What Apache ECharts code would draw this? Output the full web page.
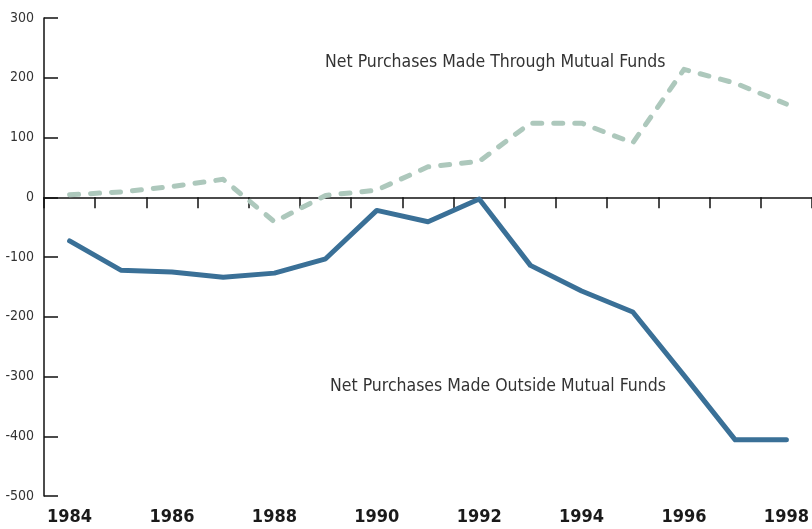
<!DOCTYPE html>
<html>
<head>
<meta charset="utf-8">
<script src="https://cdn.jsdelivr.net/npm/echarts@6/dist/echarts.min.js"></script>
<style>
  html, body { margin: 0; padding: 0; background: #fff; }
  #chart { width: 812px; height: 529px; }
</style>
</head>
<body>
<div id="chart"></div>
<script>
// years on the x axis
const years = ['1984', '1985', '1986', '1987', '1988', '1989', '1990', '1991',
  '1992', '1993', '1994', '1995', '1996', '1997', '1998'];
// net purchases made through mutual funds (dashed)
const throughFunds = [4, 9, 18, 30, -41, 3, 12, 51, 60, 124, 124, 91, 214, 191, 156];
// net purchases made outside mutual funds (solid)
const outsideFunds = [-73, -122, -125, -134, -127, -103, -22, -41, -3, -114, -157, -192, -298, -406, -406];

const FONT = '"DejaVu Sans Condensed", "Roboto", sans-serif';

const chart = echarts.init(document.getElementById('chart'));

const option = {
  animation: false,
  backgroundColor: '#fff',
  grid: {
    left: 44,
    right: -4,
    top: 18,
    bottom: 33
  },
  xAxis: [
    {
      // bottom labels only
      type: 'category',
      data: years,
      position: 'bottom',
      boundaryGap: true,
      axisLine: { show: false, onZero: false },
      axisTick: { show: false },
      axisLabel: {
        interval: 1,
        margin: 12,
        color: '#1a1a1a',
        fontFamily: FONT,
        fontWeight: 'bold',
        fontSize: 18
      },
      splitLine: { show: false }
    },
    {
      // zero line with ticks
      type: 'category',
      data: years,
      position: 'top',
      boundaryGap: true,
      axisLine: { show: true, onZero: true, lineStyle: { color: '#111', width: 1.5 } },
      axisTick: { show: true, inside: true, length: 11, lineStyle: { color: '#111', width: 1.5 } },
      axisLabel: { show: false },
      splitLine: { show: false }
    }
  ],
  yAxis: {
    type: 'value',
    min: -500,
    max: 300,
    interval: 100,
    axisLine: { show: true, lineStyle: { color: '#111', width: 1.5 } },
    axisTick: { show: true, inside: true, length: 14, lineStyle: { color: '#111', width: 1.5 } },
    axisLabel: {
      margin: 10,
      color: '#333',
      fontFamily: FONT,
      fontSize: 14
    },
    splitLine: { show: false }
  },
  graphic: [
    {
      type: 'text',
      left: 325,
      top: 53,
      style: {
        text: 'Net Purchases Made Through Mutual Funds',
        fill: '#333',
        font: '17.5px "DejaVu Sans Condensed", Roboto, sans-serif'
      }
    },
    {
      type: 'text',
      left: 330,
      top: 377,
      style: {
        text: 'Net Purchases Made Outside Mutual Funds',
        fill: '#333',
        font: '17.5px "DejaVu Sans Condensed", Roboto, sans-serif'
      }
    }
  ],
  series: [
    {
      name: 'Net Purchases Made Through Mutual Funds',
      type: 'line',
      xAxisIndex: 0,
      data: throughFunds,
      symbol: 'none',
      lineStyle: { color: '#adc8bc', width: 5, type: [9, 12], cap: 'round', join: 'round' }
    },
    {
      name: 'Net Purchases Made Outside Mutual Funds',
      type: 'line',
      xAxisIndex: 0,
      data: outsideFunds,
      symbol: 'none',
      lineStyle: { color: '#3a7097', width: 5, cap: 'round', join: 'round' }
    }
  ]
};

chart.setOption(option);
</script>
</body>
</html>
